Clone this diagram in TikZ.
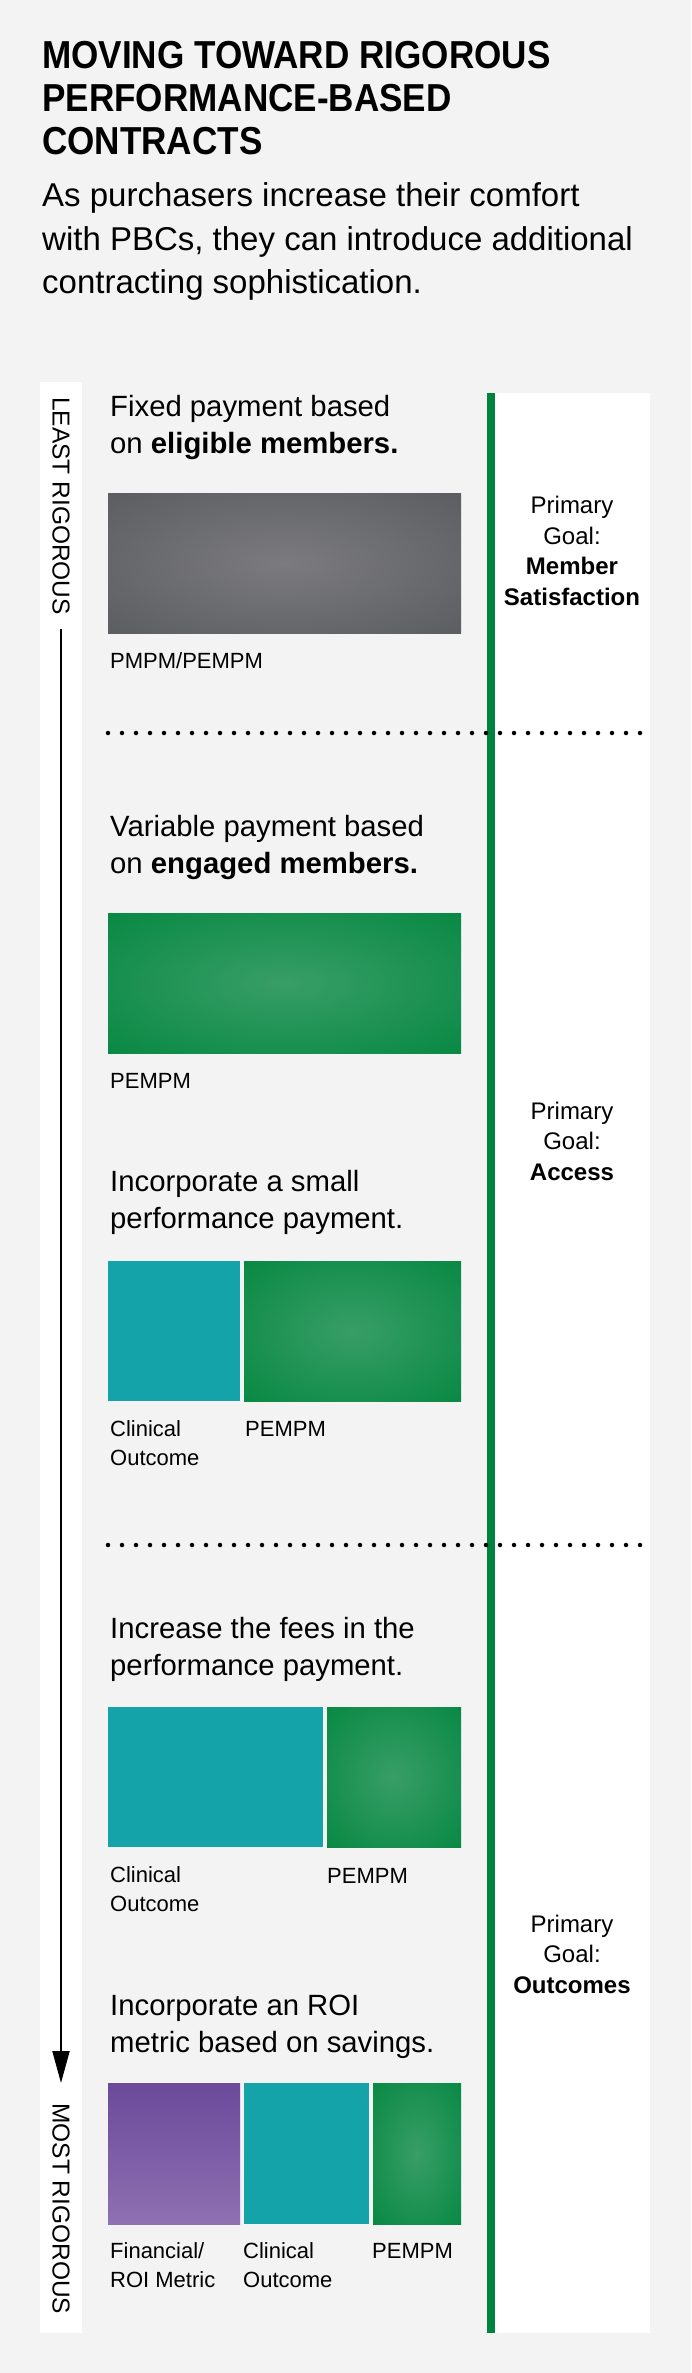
\documentclass[tikz,border=0pt]{standalone}
\usepackage{fontspec}
\setmainfont{Liberation Sans}
\newfontfamily\headfont[FakeStretch=0.9]{Liberation Sans}
\usetikzlibrary{arrows.meta}

\definecolor{bggray}{HTML}{F3F3F3}
\definecolor{pbcgreen}{HTML}{00843D}
\definecolor{pbcteal}{HTML}{13A3A9}
\definecolor{purpletop}{HTML}{6B4A9B}
\definecolor{purplebot}{HTML}{8F70B1}

\pgfdeclareradialshading{grayglow}{\pgfpoint{0bp}{0bp}}{rgb(0bp)=(0.48,0.48,0.50); rgb(42bp)=(0.34,0.345,0.36); rgb(50bp)=(0.34,0.345,0.36)}
\pgfdeclareradialshading{greenglow}{\pgfpoint{0bp}{0bp}}{rgb(0bp)=(0.22,0.62,0.40); rgb(42bp)=(0,0.52,0.24); rgb(50bp)=(0,0.52,0.24)}

% multi-line nodes: the base anchor sits on the last line
\tikzset{
  steptext/.style={anchor=base west, align=left, inner sep=0pt, font=\fontsize{29.3}{37}\selectfont},
  boxlabel/.style={anchor=base west, align=left, inner sep=0pt, font=\fontsize{22}{28.5}\selectfont},
  goaltext/.style={anchor=base, align=center, inner sep=0pt, font=\fontsize{24}{30.5}\selectfont},
  rigortext/.style={rotate=-90, anchor=west, inner sep=0pt, font=\fontsize{24.5}{24.5}\selectfont},
  sepline/.style={line width=4.5pt, line cap=round, dash pattern=on 0pt off 14pt},
  graybox/.style={shading=grayglow},
  greenbox/.style={shading=greenglow},
  tealbox/.style={fill=pbcteal},
  purplebox/.style={top color=purpletop, bottom color=purplebot},
}

\begin{document}
\begin{tikzpicture}[x=1pt, y=-1pt]
    \useasboundingbox (0,0) rectangle (691,2373);
    \fill[bggray] (0,0) rectangle (691,2373);
    % Heading
    \node[anchor=base west, align=left, inner sep=0pt, font=\headfont\bfseries\fontsize{39}{43.3}\selectfont] (title) at (42,155) {MOVING TOWARD RIGOROUS\\PERFORMANCE-BASED\\CONTRACTS};
    \node[anchor=base west, align=left, inner sep=0pt, font=\fontsize{33}{43}\selectfont] (intro) at (42,293) {As purchasers increase their comfort\\with PBCs, they can introduce additional\\contracting sophistication.};
    % Panels
    \fill[white] (40,382) rectangle (82,2333);
    \fill[white] (494.5,393) rectangle (650,2333);
    \fill[pbcgreen] (487,393) rectangle (494.5,2333);
    % Rigour scale
    \node[rigortext] (least) at (61,397) {LEAST RIGOROUS};
    \node[rigortext] (most) at (61,2103) {MOST RIGOROUS};
    \draw[line width=2pt, -{Triangle[length=32pt,width=17pt]}, shorten <=14pt, shorten >=20pt] (least.east) -- (most.west);
    % Separators
    \draw[sepline] (108,733) -- (641,733);
    \draw[sepline] (108,1545) -- (641,1545);
    % Step 1
    \node[steptext] (step1) at (110,453) {Fixed payment based\\on \textbf{eligible members.}};
    \path[graybox] (108,493) rectangle (461,633);
    \node[boxlabel] (lab1) at (110,668) {PMPM/PEMPM};
    % Step 2
    \node[steptext] (step2) at (110,873) {Variable payment based\\on \textbf{engaged members.}};
    \path[greenbox] (108,913) rectangle (461,1053);
    \node[boxlabel] (lab2) at (110,1088) {PEMPM};
    % Step 3
    \node[steptext] (step3) at (110,1228) {Incorporate a small\\performance payment.};
    \fill[tealbox] (108,1261) rectangle (240,1401);
    \path[greenbox] (244,1261) rectangle (461,1401);
    \node[boxlabel] (lab3a) at (110,1465) {Clinical\\Outcome};
    \node[boxlabel] (lab3b) at (245,1436) {PEMPM};
    % Step 4
    \node[steptext] (step4) at (110,1675) {Increase the fees in the\\performance payment.};
    \fill[tealbox] (108,1707) rectangle (323,1847);
    \path[greenbox] (327,1707) rectangle (461,1847);
    \node[boxlabel] (lab4a) at (110,1911) {Clinical\\Outcome};
    \node[boxlabel] (lab4b) at (327,1883) {PEMPM};
    % Step 5
    \node[steptext] (step5) at (110,2052) {Incorporate an ROI\\metric based on savings.};
    \path[purplebox] (108,2083) rectangle (240,2224);
    \fill[tealbox] (244,2083) rectangle (369,2224);
    \path[greenbox] (373,2083) rectangle (461,2224);
    \node[boxlabel] (lab5a) at (110,2287) {Financial/\\ROI Metric};
    \node[boxlabel] (lab5b) at (243,2287) {Clinical\\Outcome};
    \node[boxlabel] (lab5c) at (372,2258) {PEMPM};
    % Goals
    \node[goaltext] (goal1) at (572,605) {Primary\\Goal:\\\textbf{Member}\\\textbf{Satisfaction}};
    \node[goaltext] (goal2) at (572,1180) {Primary\\Goal:\\\textbf{Access}};
    \node[goaltext] (goal3) at (572,1993) {Primary\\Goal:\\\textbf{Outcomes}};
\end{tikzpicture}
\end{document}
